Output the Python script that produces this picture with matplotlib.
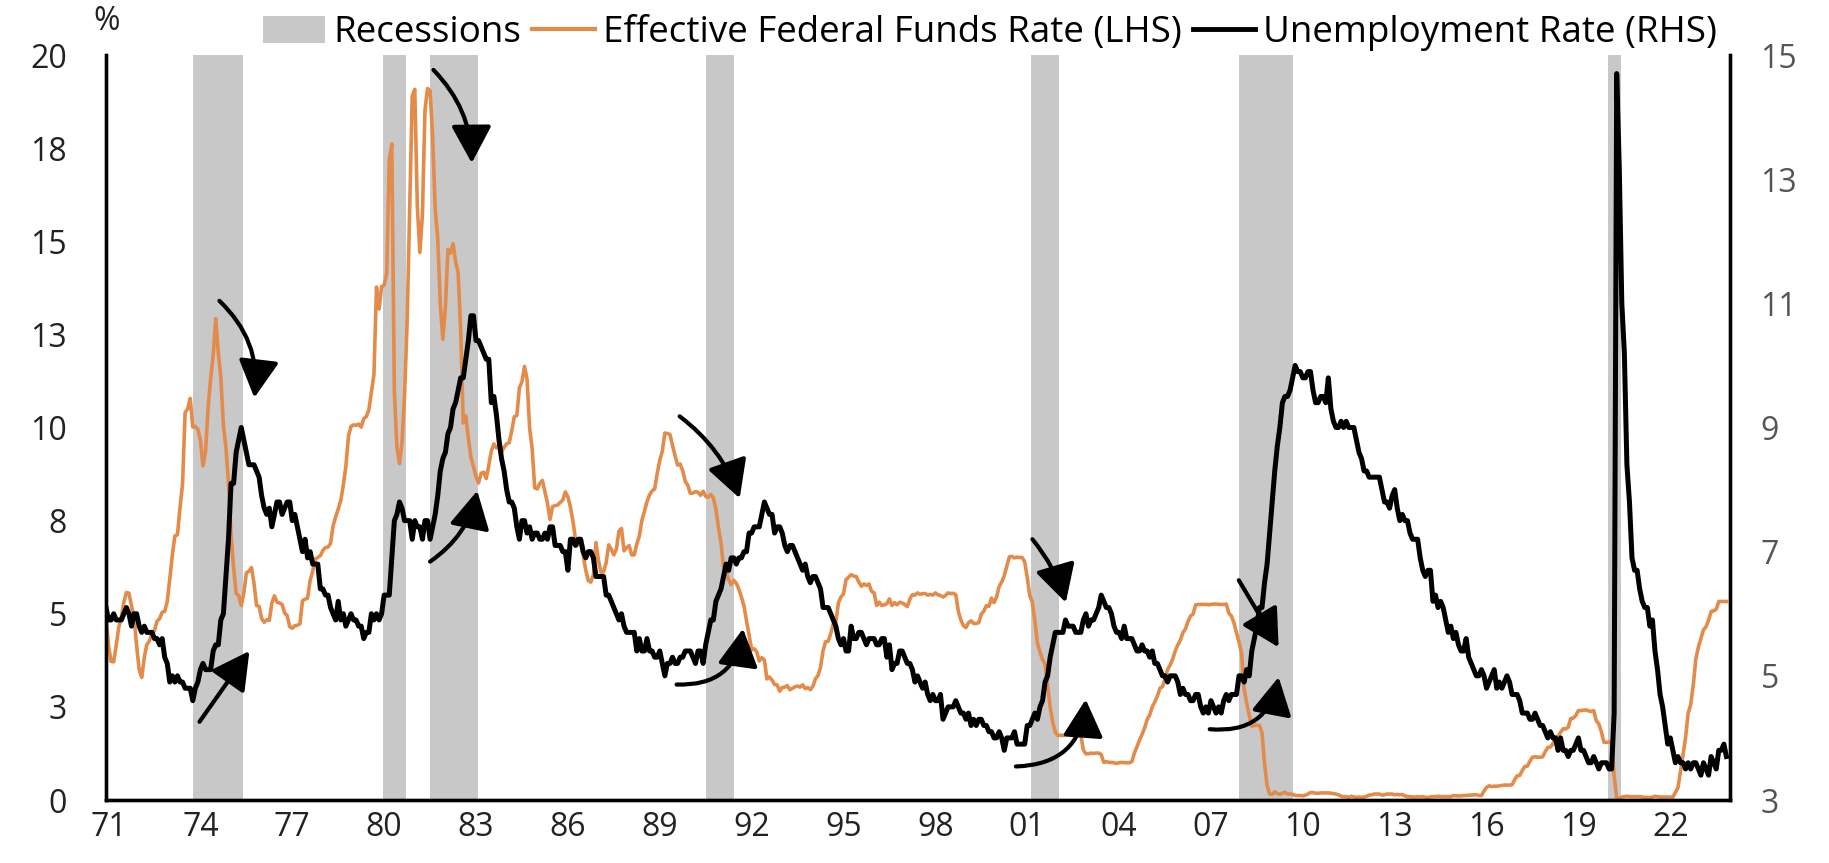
import numpy as np
import matplotlib
matplotlib.use("Agg")
import matplotlib.pyplot as plt
from matplotlib.patches import Patch
from matplotlib.lines import Line2D
from matplotlib.ticker import FuncFormatter

plt.rcParams['font.family'] = ['Open Sans', 'DejaVu Sans']

# monthly data, Dec 1970 -> Nov 2023
start_year = 1970 + 11 / 12

fed_funds = [
    4.90,
    4.14, 3.72, 3.71, 4.15, 4.63, 4.91, 5.31, 5.57, 5.55, 5.20, 4.91, 4.14,  # 71
    3.50, 3.29, 3.83, 4.17, 4.27, 4.46, 4.55, 4.80, 4.87, 5.04, 5.06, 5.33,
    5.94, 6.58, 7.09, 7.12, 7.84, 8.49, 10.40, 10.50, 10.78, 10.01, 10.03, 9.95,
    9.65, 8.97, 9.35, 10.51, 11.31, 11.93, 12.92, 12.01, 11.34, 10.06, 9.45, 8.53,
    7.13, 6.24, 5.54, 5.49, 5.22, 5.55, 6.10, 6.14, 6.24, 5.82, 5.22, 5.20,  # 75
    4.87, 4.77, 4.84, 4.82, 5.29, 5.48, 5.31, 5.29, 5.25, 5.02, 4.95, 4.65,
    4.61, 4.68, 4.69, 4.73, 5.35, 5.39, 5.42, 5.90, 6.14, 6.47, 6.51, 6.56,
    6.70, 6.78, 6.79, 6.89, 7.36, 7.60, 7.81, 8.04, 8.45, 8.96, 9.76, 10.03,
    10.07, 10.06, 10.09, 10.01, 10.24, 10.29, 10.47, 10.94, 11.43, 13.77, 13.18, 13.78,
    13.82, 14.13, 17.19, 17.61, 10.98, 9.47, 9.03, 9.61, 10.87, 12.81, 15.85, 18.90,  # 80
    19.08, 15.93, 14.70, 15.72, 18.52, 19.10, 19.04, 17.82, 15.87, 15.08, 13.31, 12.37,
    13.22, 14.78, 14.68, 14.94, 14.45, 14.15, 12.59, 10.12, 10.31, 9.71, 9.20, 8.95,
    8.68, 8.51, 8.77, 8.80, 8.63, 8.98, 9.37, 9.56, 9.45, 9.48, 9.34, 9.47,
    9.56, 9.59, 9.91, 10.29, 10.32, 11.06, 11.23, 11.64, 11.30, 9.99, 9.43, 8.38,
    8.35, 8.50, 8.58, 8.27, 7.97, 7.53, 7.88, 7.90, 7.92, 7.99, 8.05, 8.27,  # 85
    8.14, 7.86, 7.48, 6.99, 6.85, 6.92, 6.56, 6.17, 5.89, 5.85, 6.04, 6.91,
    6.43, 6.10, 6.13, 6.37, 6.85, 6.73, 6.58, 6.73, 7.22, 7.29, 6.69, 6.77,
    6.83, 6.58, 6.58, 6.87, 7.09, 7.51, 7.75, 8.01, 8.19, 8.30, 8.35, 8.76,
    9.12, 9.36, 9.85, 9.84, 9.81, 9.53, 9.24, 8.99, 9.02, 8.84, 8.55, 8.45,
    8.23, 8.24, 8.28, 8.26, 8.18, 8.29, 8.15, 8.13, 8.20, 8.11, 7.81, 7.31,  # 90
    6.91, 6.25, 6.12, 5.91, 5.78, 5.90, 5.82, 5.66, 5.45, 5.21, 4.81, 4.43,
    4.03, 4.06, 3.98, 3.73, 3.82, 3.76, 3.25, 3.30, 3.22, 3.10, 3.09, 2.92,
    3.02, 3.03, 3.07, 2.96, 3.00, 3.04, 3.06, 3.03, 3.09, 2.99, 3.02, 2.96,
    3.05, 3.25, 3.34, 3.56, 4.01, 4.25, 4.26, 4.47, 4.73, 4.76, 5.29, 5.45,
    5.53, 5.92, 5.98, 6.05, 6.01, 6.00, 5.85, 5.74, 5.80, 5.76, 5.80, 5.60,  # 95
    5.56, 5.22, 5.31, 5.22, 5.24, 5.27, 5.40, 5.22, 5.30, 5.24, 5.31, 5.29,
    5.25, 5.19, 5.39, 5.51, 5.50, 5.56, 5.52, 5.54, 5.54, 5.50, 5.52, 5.50,
    5.56, 5.51, 5.49, 5.45, 5.49, 5.56, 5.54, 5.55, 5.51, 5.07, 4.83, 4.68,
    4.63, 4.76, 4.81, 4.74, 4.74, 4.76, 4.99, 5.07, 5.22, 5.20, 5.42, 5.30,
    5.45, 5.73, 5.85, 6.02, 6.27, 6.53, 6.54, 6.50, 6.52, 6.51, 6.51, 6.40,  # 00
    5.98, 5.49, 5.31, 4.80, 4.21, 3.97, 3.77, 3.65, 3.07, 2.49, 2.09, 1.82,
    1.73, 1.74, 1.73, 1.75, 1.75, 1.75, 1.73, 1.74, 1.75, 1.75, 1.34, 1.24,
    1.24, 1.26, 1.25, 1.26, 1.26, 1.22, 1.01, 1.03, 1.01, 1.01, 1.00, 0.98,
    1.00, 1.01, 1.00, 1.00, 1.00, 1.03, 1.26, 1.43, 1.61, 1.76, 1.93, 2.16,
    2.28, 2.50, 2.63, 2.79, 3.00, 3.04, 3.26, 3.50, 3.62, 3.78, 4.00, 4.16,  # 05
    4.29, 4.49, 4.59, 4.79, 4.94, 4.99, 5.24, 5.25, 5.25, 5.25, 5.25, 5.24,
    5.25, 5.26, 5.26, 5.25, 5.25, 5.25, 5.26, 5.02, 4.94, 4.76, 4.49, 4.24,
    3.94, 2.98, 2.61, 2.28, 1.98, 2.00, 2.01, 2.00, 1.81, 0.97, 0.39, 0.16,
    0.15, 0.22, 0.18, 0.15, 0.18, 0.21, 0.16, 0.16, 0.15, 0.12, 0.12, 0.12,
    0.11, 0.13, 0.16, 0.20, 0.20, 0.18, 0.18, 0.19, 0.19, 0.19, 0.19, 0.18,  # 10
    0.17, 0.16, 0.14, 0.10, 0.09, 0.09, 0.07, 0.10, 0.08, 0.07, 0.08, 0.07,
    0.08, 0.10, 0.13, 0.14, 0.16, 0.16, 0.16, 0.13, 0.14, 0.16, 0.16, 0.16,
    0.14, 0.15, 0.14, 0.15, 0.11, 0.09, 0.09, 0.08, 0.08, 0.09, 0.08, 0.09,
    0.07, 0.07, 0.08, 0.09, 0.09, 0.10, 0.09, 0.09, 0.09, 0.09, 0.09, 0.12,
    0.11, 0.11, 0.11, 0.12, 0.12, 0.13, 0.13, 0.14, 0.14, 0.12, 0.12, 0.24,  # 15
    0.34, 0.38, 0.36, 0.37, 0.37, 0.38, 0.39, 0.40, 0.40, 0.40, 0.41, 0.54,
    0.65, 0.66, 0.79, 0.90, 0.91, 1.04, 1.15, 1.16, 1.15, 1.15, 1.16, 1.30,
    1.41, 1.42, 1.51, 1.69, 1.70, 1.82, 1.91, 1.91, 1.95, 2.19, 2.20, 2.27,
    2.40, 2.40, 2.41, 2.42, 2.39, 2.38, 2.40, 2.13, 2.04, 1.83, 1.55, 1.55,
    1.55, 1.58, 0.65, 0.05, 0.05, 0.08, 0.09, 0.10, 0.09, 0.09, 0.09, 0.09,  # 20
    0.09, 0.08, 0.07, 0.07, 0.06, 0.08, 0.10, 0.09, 0.08, 0.08, 0.08, 0.08,
    0.08, 0.08, 0.20, 0.33, 0.77, 1.21, 1.68, 2.33, 2.56, 3.08, 3.78, 4.10,
    4.33, 4.57, 4.65, 4.83, 5.06, 5.08, 5.12, 5.33, 5.33, 5.33, 5.33,
]

unemployment = [
    6.1,
    5.9, 5.9, 6.0, 5.9, 5.9, 5.9, 6.0, 6.1, 6.0, 5.8, 6.0, 6.0,  # 71
    5.8, 5.7, 5.8, 5.7, 5.7, 5.7, 5.6, 5.6, 5.5, 5.6, 5.3, 5.2,
    4.9, 5.0, 4.9, 5.0, 4.9, 4.9, 4.8, 4.8, 4.8, 4.6, 4.8, 4.9,
    5.1, 5.2, 5.1, 5.1, 5.1, 5.4, 5.5, 5.5, 5.9, 6.0, 6.6, 7.2,
    8.1, 8.1, 8.6, 8.8, 9.0, 8.8, 8.6, 8.4, 8.4, 8.4, 8.3, 8.2,  # 75
    7.9, 7.7, 7.6, 7.7, 7.4, 7.6, 7.8, 7.8, 7.6, 7.7, 7.8, 7.8,
    7.5, 7.6, 7.4, 7.2, 7.0, 7.2, 6.9, 7.0, 6.8, 6.8, 6.8, 6.4,
    6.4, 6.3, 6.3, 6.1, 6.0, 5.9, 6.2, 5.9, 6.0, 5.8, 5.9, 6.0,
    5.9, 5.9, 5.8, 5.8, 5.6, 5.7, 5.7, 6.0, 5.9, 6.0, 5.9, 6.0,
    6.3, 6.3, 6.3, 6.9, 7.5, 7.6, 7.8, 7.7, 7.5, 7.5, 7.5, 7.2,  # 80
    7.5, 7.4, 7.4, 7.2, 7.5, 7.5, 7.2, 7.4, 7.6, 7.9, 8.3, 8.5,
    8.6, 8.9, 9.0, 9.3, 9.4, 9.6, 9.8, 9.8, 10.1, 10.4, 10.8, 10.8,
    10.4, 10.4, 10.3, 10.2, 10.1, 10.1, 9.4, 9.5, 9.2, 8.8, 8.5, 8.3,
    8.0, 7.8, 7.8, 7.7, 7.4, 7.2, 7.5, 7.5, 7.3, 7.4, 7.2, 7.3,
    7.3, 7.2, 7.2, 7.3, 7.2, 7.4, 7.4, 7.1, 7.1, 7.1, 7.0, 7.0,  # 85
    6.7, 7.2, 7.2, 7.1, 7.2, 7.2, 7.0, 6.9, 7.0, 7.0, 6.9, 6.6,
    6.6, 6.6, 6.6, 6.3, 6.3, 6.2, 6.1, 6.0, 5.9, 6.0, 5.8, 5.7,
    5.7, 5.7, 5.7, 5.4, 5.6, 5.4, 5.4, 5.6, 5.4, 5.4, 5.3, 5.3,
    5.4, 5.2, 5.0, 5.2, 5.2, 5.3, 5.2, 5.2, 5.3, 5.3, 5.4, 5.4,
    5.4, 5.3, 5.2, 5.4, 5.4, 5.2, 5.5, 5.7, 5.9, 5.9, 6.2, 6.3,  # 90
    6.4, 6.6, 6.8, 6.7, 6.9, 6.9, 6.8, 6.9, 6.9, 7.0, 7.0, 7.3,
    7.3, 7.4, 7.4, 7.4, 7.6, 7.8, 7.7, 7.6, 7.6, 7.3, 7.4, 7.4,
    7.3, 7.1, 7.0, 7.1, 7.1, 7.0, 6.9, 6.8, 6.7, 6.8, 6.6, 6.5,
    6.6, 6.6, 6.5, 6.4, 6.1, 6.1, 6.1, 6.0, 5.9, 5.8, 5.6, 5.5,
    5.6, 5.4, 5.4, 5.8, 5.6, 5.6, 5.7, 5.7, 5.6, 5.5, 5.6, 5.6,  # 95
    5.6, 5.5, 5.5, 5.6, 5.6, 5.3, 5.5, 5.1, 5.2, 5.2, 5.4, 5.4,
    5.3, 5.2, 5.2, 5.1, 4.9, 5.0, 4.9, 4.8, 4.9, 4.7, 4.6, 4.7,
    4.6, 4.6, 4.7, 4.3, 4.4, 4.5, 4.5, 4.5, 4.6, 4.5, 4.4, 4.4,
    4.3, 4.4, 4.2, 4.3, 4.2, 4.3, 4.3, 4.2, 4.2, 4.1, 4.1, 4.0,
    4.0, 4.1, 4.0, 3.8, 4.0, 4.0, 4.0, 4.1, 3.9, 3.9, 3.9, 3.9,  # 00
    4.2, 4.2, 4.3, 4.4, 4.3, 4.5, 4.6, 4.9, 5.0, 5.3, 5.5, 5.7,
    5.7, 5.7, 5.7, 5.9, 5.8, 5.8, 5.8, 5.7, 5.7, 5.7, 5.9, 6.0,
    5.8, 5.9, 5.9, 6.0, 6.1, 6.3, 6.2, 6.1, 6.1, 6.0, 5.8, 5.7,
    5.7, 5.6, 5.8, 5.6, 5.6, 5.6, 5.5, 5.4, 5.4, 5.5, 5.4, 5.4,
    5.3, 5.4, 5.2, 5.2, 5.1, 5.0, 5.0, 4.9, 5.0, 5.0, 5.0, 4.9,  # 05
    4.7, 4.8, 4.7, 4.7, 4.6, 4.6, 4.7, 4.7, 4.5, 4.4, 4.5, 4.4,
    4.6, 4.5, 4.4, 4.5, 4.4, 4.6, 4.7, 4.6, 4.7, 4.7, 4.7, 5.0,
    5.0, 4.9, 5.1, 5.0, 5.4, 5.6, 5.8, 6.1, 6.1, 6.5, 6.8, 7.3,
    7.8, 8.3, 8.7, 9.0, 9.4, 9.5, 9.5, 9.6, 9.8, 10.0, 9.9, 9.9,
    9.8, 9.8, 9.9, 9.9, 9.6, 9.4, 9.4, 9.5, 9.5, 9.4, 9.8, 9.3,  # 10
    9.1, 9.0, 9.0, 9.1, 9.0, 9.1, 9.0, 9.0, 9.0, 8.8, 8.6, 8.5,
    8.3, 8.3, 8.2, 8.2, 8.2, 8.2, 8.2, 8.0, 7.8, 7.8, 7.7, 7.9,
    8.0, 7.7, 7.5, 7.6, 7.5, 7.5, 7.3, 7.2, 7.2, 7.2, 6.9, 6.7,
    6.6, 6.7, 6.7, 6.2, 6.3, 6.1, 6.2, 6.1, 5.9, 5.7, 5.8, 5.6,
    5.7, 5.5, 5.4, 5.4, 5.6, 5.3, 5.2, 5.1, 5.0, 5.0, 5.1, 5.0,  # 15
    4.8, 4.9, 5.0, 5.1, 4.8, 4.9, 4.8, 4.9, 5.0, 4.9, 4.7, 4.7,
    4.7, 4.6, 4.4, 4.4, 4.4, 4.3, 4.3, 4.4, 4.3, 4.2, 4.2, 4.1,
    4.0, 4.1, 4.0, 4.0, 3.8, 4.0, 3.8, 3.8, 3.7, 3.8, 3.8, 3.9,
    4.0, 3.8, 3.8, 3.7, 3.6, 3.6, 3.7, 3.6, 3.5, 3.6, 3.6, 3.6,
    3.5, 3.5, 4.4, 14.7, 13.2, 11.0, 10.2, 8.4, 7.8, 6.9, 6.7, 6.7,  # 20
    6.4, 6.2, 6.1, 6.1, 5.8, 5.9, 5.4, 5.1, 4.7, 4.5, 4.2, 3.9,
    4.0, 3.8, 3.6, 3.7, 3.6, 3.6, 3.5, 3.6, 3.5, 3.6, 3.6, 3.5,
    3.4, 3.6, 3.5, 3.4, 3.7, 3.6, 3.5, 3.8, 3.8, 3.9, 3.7,
]

# recession shading (as drawn in the chart, decimal years)
rec_start = [1973.75, 1979.95, 1981.50, 1990.52, 2001.12, 2007.90, 2019.95]
rec_end = [1975.40, 1980.70, 1983.08, 1991.44, 2002.05, 2009.68, 2020.38]

# arrows: (tail_x, tail_y, tip_x, tip_y, curvature) in left-axis units
arrows = [
    (1973.97, 2.1, 1975.60, 4.0, 0.0),
    (1974.62, 13.4, 1975.76, 10.8, -0.25),
    (1981.61, 19.6, 1982.86, 17.1, -0.2),
    (1981.50, 6.4, 1983.04, 8.3, 0.2),
    (1989.65, 10.3, 1991.61, 8.1, -0.15),
    (1989.55, 3.1, 1991.72, 4.6, 0.45),
    (2001.17, 7.0, 2002.26, 5.3, -0.1),
    (2000.63, 0.9, 2002.91, 2.7, 0.45),
    (2007.91, 5.9, 2009.21, 4.1, 0.0),
    (2006.96, 1.9, 2009.21, 3.3, 0.45),
]

x_years = start_year + np.arange(len(fed_funds)) / 12
x_years_u = start_year + np.arange(len(unemployment)) / 12

orange = '#E38B4A'
grey = '#C8C8C8'

fig = plt.figure(figsize=(18.29, 8.63), dpi=100)
ax = fig.add_axes([106 / 1829, 1 - 800 / 863, (1730 - 106) / 1829, (800 - 55) / 863])
ax2 = ax.twinx()

for s, e in zip(rec_start, rec_end):
    ax.axvspan(s, e, color=grey, lw=0, zorder=0)

ax.plot(x_years, fed_funds, color=orange, lw=2.6, zorder=2)
ax2.plot(x_years_u, unemployment, color='black', lw=3.6, zorder=3)

ax.set_xlim(start_year, 2023.95)
ax.set_ylim(0, 20)
ax2.set_ylim(3, 15)

ax.set_yticks(np.arange(0, 20.1, 2.5))
ax.yaxis.set_major_formatter(FuncFormatter(lambda v, p: str(int(np.floor(v + 0.5)))))
ax2.set_yticks(np.arange(3, 16, 2))
years = np.arange(1971, 2023, 3)
ax.set_xticks(years)
ax.set_xticklabels([f"{y % 100:02d}" for y in years])

for a in (ax, ax2):
    a.spines['top'].set_visible(False)
    for sp in ('left', 'right', 'bottom'):
        a.spines[sp].set_linewidth(2.4)
        a.spines[sp].set_color('black')
ax.tick_params(axis='both', length=0, labelsize=23)
ax.tick_params(axis='y', pad=28, colors='#222222')
ax.tick_params(axis='x', pad=8, colors='#222222')
ax2.tick_params(axis='y', length=0, labelsize=23, pad=22, colors='#555555')

for tx, ty, hx, hy, rad in arrows:
    ax2.annotate('', xy=(hx, hy), xytext=(tx, ty),
                 xycoords=ax.transData, textcoords=ax.transData,
                 arrowprops=dict(arrowstyle='-|>,head_length=0.5,head_width=0.27',
                                 color='black', lw=3.0, mutation_scale=46,
                                 shrinkA=0, shrinkB=0,
                                 connectionstyle=f'arc3,rad={rad}'),
                 zorder=5)

fig.text(107 / 1829, 1 - 22 / 863, '%', fontsize=23, ha='center', va='center', color='#222222')

handles = [
    Patch(facecolor=grey, edgecolor='none', label='Recessions'),
    Line2D([], [], color=orange, lw=3, label='Effective Federal Funds Rate (LHS)'),
    Line2D([], [], color='black', lw=3.5, label='Unemployment Rate (RHS)'),
]
fig.legend(handles=handles, loc='center', bbox_to_anchor=(990 / 1829, 1 - 33 / 863),
           ncol=3, frameon=False, fontsize=26.5, handlelength=1.7, handletextpad=0.22,
           columnspacing=0.3, handleheight=0.75, borderaxespad=0, borderpad=0)

fig.savefig('out.png', dpi=100)
